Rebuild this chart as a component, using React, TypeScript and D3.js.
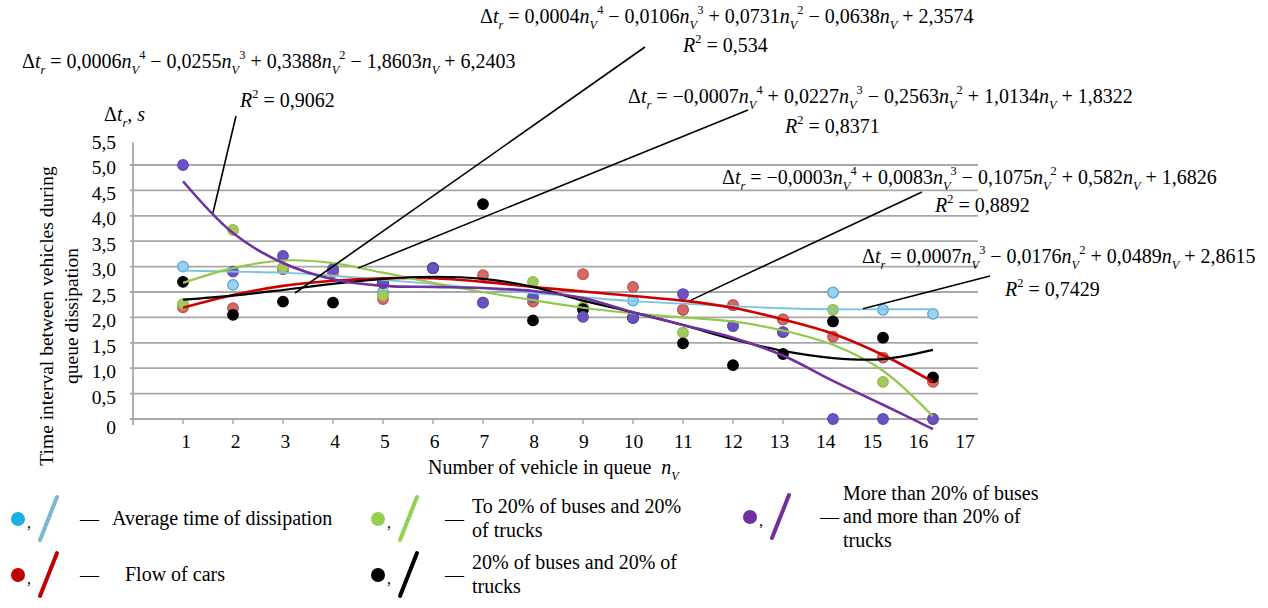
import React from "react";
import * as d3 from "d3";

// ---------- data ----------
const nValues = [1, 2, 3, 4, 5, 6, 7, 8, 9, 10, 11, 12, 13, 14, 15, 16];
const xTickLabels = ["1", "2", "3", "4", "5", "6", "7", "8", "9", "10", "11", "12", "13", "14", "15", "16", "17"];
const yTickValues = [0, 0.5, 1, 1.5, 2, 2.5, 3, 3.5, 4, 4.5, 5, 5.5];
const yTickLabels = ["0", "0,5", "1,0", "1,5", "2,0", "2,5", "3,0", "3,5", "4,0", "4,5", "5,0", "5,5"];

// observed points
const avgDots = [3.0, 2.64, 2.95, 2.9, 2.5, 2.97, 2.29, 2.4, 2.18, 2.33, 2.15, 2.24, 1.96, 2.49, 2.15, 2.07];
const carDots = [2.2, 2.18, 2.95, 2.89, 2.36, 2.97, 2.83, 2.31, 2.85, 2.6, 2.15, 2.24, 1.96, 1.62, 1.21, 0.73];
const to20Dots = [2.26, 3.72, 2.98, 2.95, 2.43, 2.97, 2.29, 2.7, 2.2, 1.99, 1.7, 1.83, 1.71, 2.15, 0.73, 0.0];
const eq20Dots = [2.7, 2.05, 2.31, 2.29, 2.68, 2.97, 4.23, 1.94, 2.16, 1.99, 1.49, 1.06, 1.28, 1.92, 1.6, 0.82];
const over20Dots = [5.0, 2.9, 3.21, 2.95, 2.68, 2.97, 2.29, 2.4, 2.01, 1.99, 2.46, 1.83, 1.71, 0, 0, 0];

// trend lines
const avgTrend = [2.92, 2.9, 2.88, 2.82, 2.74, 2.66, 2.57, 2.48, 2.4, 2.32, 2.27, 2.22, 2.18, 2.16, 2.16, 2.16];
const carTrend = [2.19, 2.44, 2.62, 2.72, 2.77, 2.77, 2.7, 2.6, 2.51, 2.42, 2.33, 2.19, 1.96, 1.68, 1.26, 0.73];
const to20Trend = [2.68, 2.97, 3.12, 3.07, 2.88, 2.68, 2.5, 2.34, 2.19, 2.08, 2.0, 1.92, 1.74, 1.46, 0.95, 0.05];
const eq20Trend = [2.35, 2.43, 2.54, 2.66, 2.76, 2.8, 2.76, 2.6, 2.33, 2.1, 1.85, 1.57, 1.34, 1.2, 1.18, 1.36];
const over20Trend = [4.68, 3.66, 3.07, 2.75, 2.62, 2.6, 2.58, 2.52, 2.38, 2.1, 1.85, 1.6, 1.25, 0.75, 0.28, -0.2];

const equations = [
  { eq: "Δ*t*_r = 0,0006*n*_V^4 − 0,0255*n*_V^3 + 0,3388*n*_V^2 − 1,8603*n*_V + 6,2403", r2: "0,9062", ex: 22, ey: 68, rx: 240, ry: 107, at: [1.6, 4.06], from: [236, 116] },
  { eq: "Δ*t*_r = 0,0004*n*_V^4 − 0,0106*n*_V^3 + 0,0731*n*_V^2 − 0,0638*n*_V + 2,3574", r2: "0,534", ex: 480, ey: 23, rx: 683, ry: 52, at: [3.24, 2.48], from: [645, 47] },
  { eq: "Δ*t*_r = −0,0007*n*_V^4 + 0,0227*n*_V^3 − 0,2563*n*_V^2 + 1,0134*n*_V + 1,8322", r2: "0,8371", ex: 628, ey: 103, rx: 785, ry: 133, at: [4.5, 2.97], from: [748, 110] },
  { eq: "Δ*t*_r = −0,0003*n*_V^4 + 0,0083*n*_V^3 − 0,1075*n*_V^2 + 0,582*n*_V + 1,6826", r2: "0,8892", ex: 722, ey: 184, rx: 935, ry: 212, at: [11.16, 2.34], from: [922, 192] },
  { eq: "Δ*t*_r = 0,0007*n*_V^3 − 0,0176*n*_V^2 + 0,0489*n*_V + 2,8615", r2: "0,7429", ex: 862, ey: 263, rx: 1005, ry: 296, at: [14.6, 2.17], from: [990, 276] },
];

const series = [
  { name: "avg", dots: avgDots, trend: avgTrend, dotFill: "#9fd0ee", dotStroke: "#4aa3d6", line: "#7cc3df", lw: 1.8 },
  { name: "cars", dots: carDots, trend: carTrend, dotFill: "#d46a66", dotStroke: "#c0504d", line: "#d00000", lw: 2.6 },
  { name: "to20", dots: to20Dots, trend: to20Trend, dotFill: "#a5c85e", dotStroke: "#8fb84a", line: "#92c84c", lw: 2.2 },
  { name: "eq20", dots: eq20Dots, trend: eq20Trend, dotFill: "#000000", dotStroke: "#000000", line: "#000000", lw: 2.2 },
  { name: "over20", dots: over20Dots, trend: over20Trend, dotFill: "#6a52c4", dotStroke: "#5e46b8", line: "#7030a0", lw: 2.6 },
];

const legendItems = [
  { dot: "#1aaee6", slash: "#78b8d0", lines: ["Average time of dissipation"], x: 18, y: 519, tx: 112, dash: 80 },
  { dot: "#c00000", slash: "#c00000", lines: ["Flow of cars"], x: 18, y: 575, tx: 125, dash: 80 },
  { dot: "#92d050", slash: "#92d050", lines: ["To 20% of buses and 20%", "of trucks"], x: 378, y: 519, tx: 472, dash: 445 },
  { dot: "#000000", slash: "#000000", lines: ["20% of buses and 20% of", "trucks"], x: 378, y: 575, tx: 472, dash: 445 },
  { dot: "#7030a0", slash: "#7030a0", lines: ["More than 20% of buses", "and more than 20% of", "trucks"], x: 750, y: 517, tx: 843, dash: 820 },
];

const FONT = "'Liberation Serif', 'Times New Roman', serif";

function rich(src: string, fs: number) {
  const parts = src.split(/(\*[^*]+\*|_[A-Za-z]|\^[0-9])/).filter((s) => s !== "");
  let shift = 0;
  return parts.map((p, i) => {
    let text = p;
    let italic = false;
    let target = 0;
    let size = fs;
    if (p.startsWith("*")) {
      text = p.slice(1, -1);
      italic = true;
    } else if (p.startsWith("_")) {
      text = p.slice(1);
      italic = true;
      target = 0.3 * fs;
      size = fs * 0.62;
    } else if (p.startsWith("^")) {
      text = p.slice(1);
      target = -0.45 * fs;
      size = fs * 0.62;
    }
    const dy = target - shift;
    shift = target;
    return (
      <tspan key={i} dy={dy} fontStyle={italic ? "italic" : "normal"} fontSize={size}>
        {text}
      </tspan>
    );
  });
}

export default function App() {
  const W = 1268;
  const H = 608;
  const x = d3.scaleLinear().domain([0, 17]).range([133, 983]);
  const y = d3.scaleLinear().domain([0, 5.5]).range([419, 139.6]);
  const yLab = d3.scaleLinear().domain([0, 0.5, 5.5]).range([427, 397, 142]);
  const xLab = d3.scaleLinear().domain([1, 12, 17]).range([186, 733, 965]);

  const line = d3
    .line<number>()
    .x((_, i) => x(nValues[i]))
    .y((d) => y(d))
    .curve(d3.curveCatmullRom.alpha(0.5));

  const gridVals = yTickValues.filter((v) => v > 0 && v < 5.5);
  const EQ = 20;

  return (
    <svg width={W} height={H} style={{ position: "absolute", left: 0, top: 0, background: "#fff" }} fontFamily={FONT}>
      <rect x={0} y={0} width={W} height={H} fill="#fff" />
      {/* grid */}
      {gridVals.map((v) => (
        <line key={v} x1={x(0) - 3} x2={x(17) - 5} y1={y(v)} y2={y(v)} stroke="#a8a8a8" strokeWidth={1.8} />
      ))}
      {/* x axis */}
      <line x1={x(0) - 3} x2={x(17) - 5} y1={y(0)} y2={y(0)} stroke="#a8a8a8" strokeWidth={1.8} />
      <line x1={x(0)} x2={x(0)} y1={y(5.45)} y2={y(0) + 6} stroke="#a8a8a8" strokeWidth={1.8} />
      {nValues.map((n) => (
        <line key={n} x1={x(n)} x2={x(n)} y1={y(0)} y2={y(0) + 5} stroke="#a8a8a8" strokeWidth={1.5} />
      ))}
      {xTickLabels.map((t, i) => (
        <text key={t} x={xLab(i + 1)} y={448} textAnchor="middle" fontSize={19.5}>
          {t}
        </text>
      ))}
      {yTickValues.map((v, i) => (
        <text key={v} x={116} y={yLab(v)} dy="0.35em" textAnchor="end" fontSize={19.5}>
          {yTickLabels[i]}
        </text>
      ))}

      {/* axis titles */}
      <text transform="translate(53,316) rotate(-90)" textAnchor="middle" fontSize={19.5}>
        Time interval between vehicles during
      </text>
      <text transform="translate(78,316) rotate(-90)" textAnchor="middle" fontSize={19.5}>
        queue dissipation
      </text>
      <text x={104} y={121} fontSize={20} style={{ whiteSpace: "pre" }}>
        {rich("Δ*t*_r, *s*", 20)}
      </text>
      <text x={428} y={474} fontSize={20} style={{ whiteSpace: "pre" }}>
        {rich("Number of vehicle in queue  *n*_V", 20)}
      </text>

      {/* dots */}
      {series.map((s) => (
        <g key={s.name + "-dots"}>
          {s.dots.map((d, i) => (
            <circle key={i} cx={x(nValues[i])} cy={y(d)} r={5.3} fill={s.dotFill} stroke={s.dotStroke} strokeWidth={1.2} />
          ))}
        </g>
      ))}
      {/* trend lines */}
      {series.map((s) => (
        <path key={s.name + "-trend"} d={line(s.trend) || ""} fill="none" stroke={s.line} strokeWidth={s.lw} />
      ))}

      {/* equations */}
      {equations.map((e, i) => (
        <g key={i}>
          <line x1={e.from[0]} y1={e.from[1]} x2={x(e.at[0])} y2={y(e.at[1])} stroke="#000" strokeWidth={1.6} />
          <text x={e.ex} y={e.ey} fontSize={EQ} style={{ whiteSpace: "pre" }}>
            {rich(e.eq, EQ)}
          </text>
          <text x={e.rx} y={e.ry} fontSize={EQ} style={{ whiteSpace: "pre" }}>
            {rich("*R*^2 = " + e.r2, EQ)}
          </text>
        </g>
      ))}

      {/* legend */}
      {legendItems.map((l, i) => (
        <g key={i}>
          <circle cx={l.x} cy={l.y} r={7} fill={l.dot} />
          <text x={l.x + 9} y={l.y + 9} fontSize={16}>
            ,
          </text>
          <line x1={l.x + 22} y1={l.y + 21} x2={l.x + 39} y2={l.y - 22} stroke={l.slash} strokeWidth={4} strokeLinecap="round" />
          <text x={l.dash} y={l.y + 6} fontSize={19}>
            —
          </text>
          {l.lines.map((t, j) => (
            <text key={j} x={l.tx} y={l.y + 6 + (j - (l.lines.length - 1) / 2) * 23.5} fontSize={20}>
              {t}
            </text>
          ))}
        </g>
      ))}
    </svg>
  );
}
